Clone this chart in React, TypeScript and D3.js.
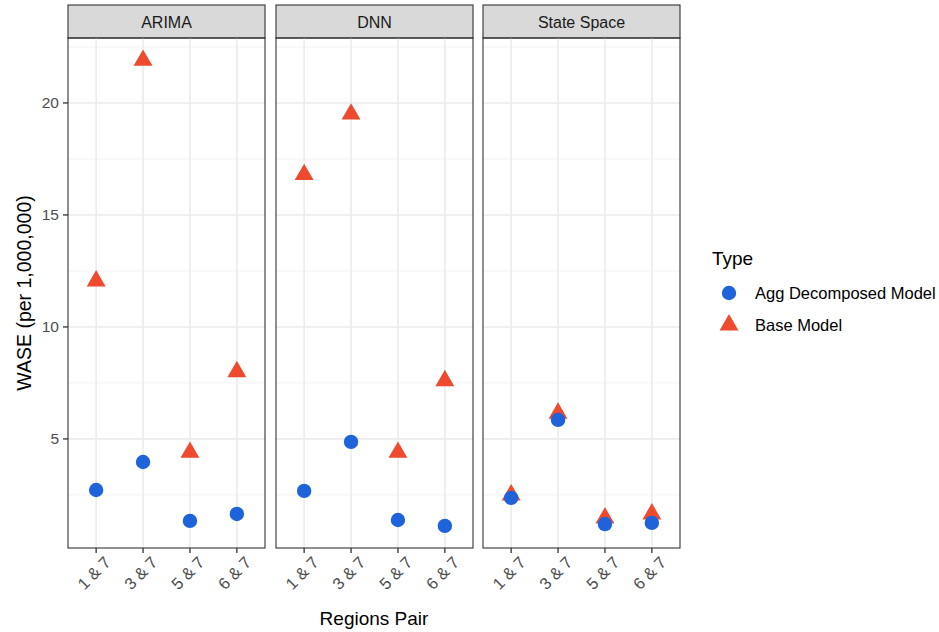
import * as d3 from 'd3'

const models = ['ARIMA', 'DNN', 'State Space']
const pairs = ['1 & 7', '3 & 7', '5 & 7', '6 & 7']
const types = ['Agg Decomposed Model', 'Base Model']

// values per model, in pair order
const aggValues = [
  [2.72, 3.97, 1.34, 1.65],
  [2.68, 4.87, 1.38, 1.12],
  [2.37, 5.85, 1.2, 1.25],
]
const baseValues = [
  [12.05, 21.9, 4.4, 8.0],
  [16.8, 19.5, 4.4, 7.6],
  [2.5, 6.15, 1.47, 1.65],
]

const yTicks = [5, 10, 15, 20]
const yMinor = [2.5, 7.5, 12.5, 17.5, 22.5]

const BLUE = '#1f63da'
const RED = '#ee4a2f'
const FONT = '"Liberation Sans", Arial, Helvetica, sans-serif'

export default function App() {
  const W = 939
  const H = 632
  const panelTop = 38
  const panelBottom = 548
  const stripTop = 5
  const panelX = [68, 276, 483]
  const panelW = 197

  const y = d3.scaleLinear().domain([0.13, 22.9]).range([panelBottom, panelTop])

  const triangle = d3.symbol().type(d3.symbolTriangle).size(155)

  return (
    <svg width={W} height={H} style={{ position: 'absolute', left: 0, top: 0, background: '#fff' }} fontFamily={FONT}>
      {models.map((m, mi) => {
        const x0 = panelX[mi]
        const x = d3.scalePoint<string>().domain(pairs).range([x0, x0 + panelW]).padding(0.6)
        return (
          <g key={m}>
            {/* strip */}
            <rect x={x0} y={stripTop} width={panelW} height={panelTop - stripTop} fill="#d9d9d9" stroke="#333" strokeWidth={1.1} />
            <text x={x0 + panelW / 2} y={(stripTop + panelTop) / 2 + 1} textAnchor="middle" dominantBaseline="central" fontSize={16} fill="#1a1a1a">{m}</text>
            {/* grid */}
            {yMinor.map(v => (
              <line key={'mn' + v} x1={x0} x2={x0 + panelW} y1={y(v)} y2={y(v)} stroke="#f2f2f2" strokeWidth={1} />
            ))}
            {yTicks.map(v => (
              <line key={'mj' + v} x1={x0} x2={x0 + panelW} y1={y(v)} y2={y(v)} stroke="#ebebeb" strokeWidth={1.6} />
            ))}
            {pairs.map(p => (
              <line key={'gx' + p} x1={x(p)} x2={x(p)} y1={panelTop} y2={panelBottom} stroke="#ebebeb" strokeWidth={1.6} />
            ))}
            {/* points */}
            {pairs.map((p, pi) => (
              <path key={'t' + p} d={triangle() || ''} transform={`translate(${x(p)},${y(baseValues[mi][pi])})`} fill={RED} />
            ))}
            {pairs.map((p, pi) => (
              <circle key={'c' + p} cx={x(p)} cy={y(aggValues[mi][pi])} r={7.2} fill={BLUE} />
            ))}
            {/* border */}
            <rect x={x0} y={panelTop} width={panelW} height={panelBottom - panelTop} fill="none" stroke="#333" strokeWidth={1.1} />
            {/* x ticks */}
            {pairs.map(p => (
              <g key={'xt' + p}>
                <line x1={x(p)} x2={x(p)} y1={panelBottom} y2={panelBottom + 5} stroke="#333" strokeWidth={1.3} />
                <text transform={`translate(${(x(p) ?? 0) + 7},${panelBottom + 7}) rotate(-45)`} textAnchor="end" dominantBaseline="hanging" fontSize={16.5} fill="#4d4d4d">{p}</text>
              </g>
            ))}
          </g>
        )
      })}
      {/* y axis */}
      {yTicks.map(v => (
        <g key={'yt' + v}>
          <line x1={panelX[0] - 5} x2={panelX[0]} y1={y(v)} y2={y(v)} stroke="#333" strokeWidth={1.3} />
          <text x={panelX[0] - 9} y={y(v)} textAnchor="end" dominantBaseline="central" fontSize={15.5} fill="#4d4d4d">{v}</text>
        </g>
      ))}
      <text transform={`translate(24,${(panelTop + panelBottom) / 2}) rotate(-90)`} textAnchor="middle" dominantBaseline="central" fontSize={19.5} fill="#000">WASE (per 1,000,000)</text>
      <text x={(panelX[0] + panelX[2] + panelW) / 2} y={625} textAnchor="middle" fontSize={19} fill="#000">Regions Pair</text>
      {/* legend */}
      <text x={712} y={258} dominantBaseline="central" fontSize={19} fill="#000">Type</text>
      {types.map((t, i) => (
        <g key={t} transform={`translate(729,${293 + i * 32})`}>
          {i === 0 ? <circle r={7.2} fill={BLUE} /> : <path d={triangle() || ''} fill={RED} />}
          <text x={26} dominantBaseline="central" fontSize={16.5} fill="#000">{t}</text>
        </g>
      ))}
    </svg>
  )
}
